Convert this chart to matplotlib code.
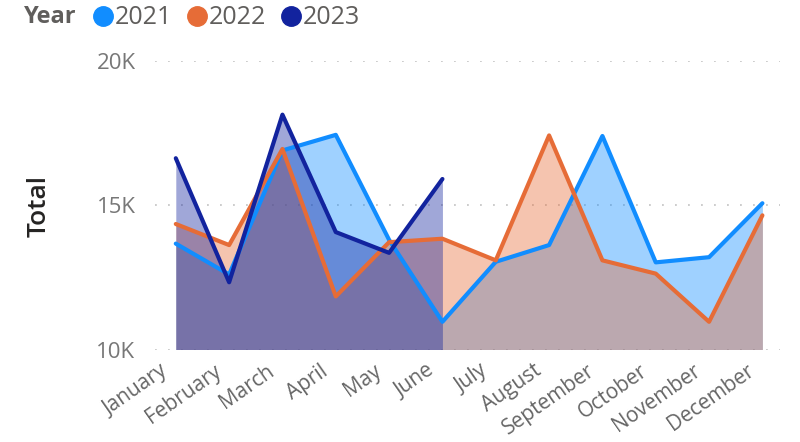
import matplotlib
matplotlib.use("Agg")
import matplotlib.pyplot as plt
from matplotlib.transforms import ScaledTranslation, blended_transform_factory
from matplotlib.lines import Line2D

plt.rcParams['font.family'] = ['Open Sans', 'DejaVu Sans']

months = ["January", "February", "March", "April", "May", "June", "July",
          "August", "September", "October", "November", "December"]
y2021 = [13670, 12600, 16900, 17440, 13800, 10960, 13040, 13620, 17400, 13020, 13200, 15070]
y2022 = [14350, 13620, 16950, 11840, 13720, 13840, 13090, 17420, 13090, 12630, 10960, 14650]
y2023 = [16630, 12330, 18140, 14070, 13350, 15910]
years = ["2021", "2022", "2023"]
colors = ["#118DFF", "#E66C37", "#12239E"]
yticks = [10000, 15000, 20000]
ytick_labels = ["10K", "15K", "20K"]

fig = plt.figure(figsize=(8, 4.42), dpi=100)
ax = fig.add_axes([155/800, 1-349.5/442, 625/800, (349.5-61)/442])

series = [y2021, y2022, y2023]
xs = [list(range(len(s))) for s in series]
for x, s, c in zip(xs, series, colors):
    ax.fill_between(x, 10000, s, color=c, alpha=0.4, linewidth=0, zorder=1)
for i, (x, s, c) in enumerate(zip(xs, series, colors)):
    ax.plot(x, s, color=c, linewidth=3.0, solid_joinstyle='round',
            solid_capstyle='round', zorder=3 + i)

ax.set_xlim(-0.39, 11.33)
ax.set_ylim(10000, 20000)
ax.set_yticks(yticks)
ax.set_yticklabels(ytick_labels)
ax.grid(axis='y', color='#c8c8c8', linestyle=(0, (1, 6.2)), linewidth=1.3, zorder=0)
ax.set_axisbelow(True)
for sp in ax.spines.values():
    sp.set_visible(False)
ax.tick_params(axis='y', length=0, pad=14, labelsize=16, labelcolor='#777777')
ax.set_xticks(range(len(months)))
ax.tick_params(axis='x', length=0, labelbottom=False)

trans = blended_transform_factory(ax.transData, ax.transAxes) + \
    ScaledTranslation(-16/100, -11/100, fig.dpi_scale_trans)
for i, m in enumerate(months):
    ax.text(i, 0, m, transform=trans, rotation=35, rotation_mode='anchor',
            ha='right', va='top', fontsize=15, color='#666666', clip_on=False)

fig.text(39/800, 1-206/442, "Total", rotation=90, ha='center', va='center',
         fontsize=19, fontweight='semibold', color='#252423')

# legend
ly = 1 - 17/442
fig.text(24/800, ly, "Year", ha='left', va='center', fontsize=17,
         fontweight='bold', color='#605E5C')
lx = [103, 197, 291]
for x0, yr, c in zip(lx, years, colors):
    fig.add_artist(Line2D([x0/800], [1-16/442], marker='o', markersize=14,
                          color=c, transform=fig.transFigure, linestyle='none'))
    fig.text((x0+12)/800, ly, yr, ha='left', va='center', fontsize=18,
             color='#605E5C')

fig.savefig("out.png", dpi=100)
